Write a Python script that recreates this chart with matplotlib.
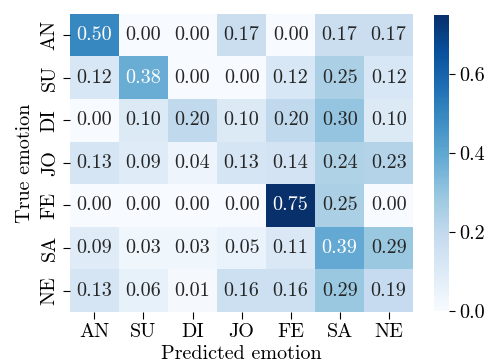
import matplotlib
matplotlib.use("Agg")
import matplotlib.pyplot as plt
import numpy as np
import seaborn as sns

labels = ["AN", "SU", "DI", "JO", "FE", "SA", "NE"]
row_AN = [0.50, 0.00, 0.00, 0.17, 0.00, 0.17, 0.17]
row_SU = [0.12, 0.38, 0.00, 0.00, 0.12, 0.25, 0.12]
row_DI = [0.00, 0.10, 0.20, 0.10, 0.20, 0.30, 0.10]
row_JO = [0.13, 0.09, 0.04, 0.13, 0.14, 0.24, 0.23]
row_FE = [0.00, 0.00, 0.00, 0.00, 0.75, 0.25, 0.00]
row_SA = [0.09, 0.03, 0.03, 0.05, 0.11, 0.39, 0.29]
row_NE = [0.13, 0.06, 0.01, 0.16, 0.16, 0.29, 0.19]

data = np.array([row_AN, row_SU, row_DI, row_JO, row_FE, row_SA, row_NE])

plt.rcParams['font.family'] = ['cmr10', 'DejaVu Serif']
plt.rcParams['mathtext.fontset'] = 'cm'
plt.rcParams['axes.formatter.use_mathtext'] = True
fs = 14.5
plt.rcParams['font.size'] = fs

fig = plt.figure(figsize=(4.89, 3.64), dpi=100)
ax = fig.add_axes([0.143, 0.143, 0.702, 0.819])
cax = fig.add_axes([0.888, 0.146, 0.031, 0.813])

sns.heatmap(data, ax=ax, cbar_ax=cax, cmap="Blues", annot=True, fmt=".2f",
            xticklabels=labels, yticklabels=labels,
            annot_kws={"fontsize": fs})
ax.set_xlabel("Predicted emotion", fontsize=fs, labelpad=3)
ax.set_ylabel("True emotion", fontsize=fs, labelpad=5)
ax.tick_params(axis='both', labelsize=fs, length=5, pad=3)
ax.set_yticklabels(labels, rotation=90, va='center')
ax.set_xticklabels(labels, rotation=0)
cax.tick_params(labelsize=fs, length=4, pad=3)
cax.set_yticks([0.0, 0.2, 0.4, 0.6])
cax.set_yticklabels(["0.0", "0.2", "0.4", "0.6"])
for s in cax.spines.values():
    s.set_visible(False)

fig.savefig("out.png", dpi=100)
